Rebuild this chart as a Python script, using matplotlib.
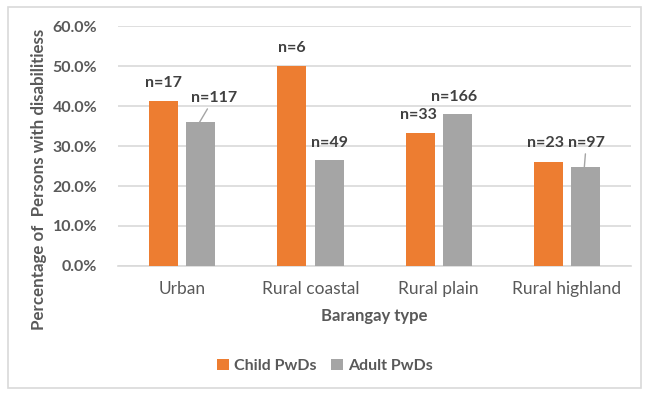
import numpy as np
import matplotlib.pyplot as plt
from matplotlib.patches import Rectangle

barangay_types = ["Urban", "Rural coastal", "Rural plain", "Rural highland"]
child_pct = [41.2, 50.0, 33.3, 26.1]
adult_pct = [35.9, 26.5, 38.0, 24.7]
child_n = [17, 6, 33, 23]
adult_n = [117, 49, 166, 97]

orange = "#ED7D31"
grey = "#A5A5A5"
txt = "#595959"

plt.rcParams["font.family"] = ["Lato", "DejaVu Sans"]

fig = plt.figure(figsize=(6.5, 3.95), dpi=100)
fig.patches.append(Rectangle((8 / 650, 1 - 388 / 395), 633 / 650, 381 / 395,
                             transform=fig.transFigure, fill=False,
                             edgecolor="#D9D9D9", linewidth=1.2))
ax = fig.add_axes([0.1815, 0.3266, 0.7895, 0.6075])

x = np.arange(len(barangay_types))
w = 0.226
off = 0.145
b1 = ax.bar(x - off, np.array(child_pct) / 100, w, color=orange, label="Child PwDs", zorder=3)
b2 = ax.bar(x + off, np.array(adult_pct) / 100, w, color=grey, label="Adult PwDs", zorder=3)

ax.set_xlim(-0.5, 3.5)
ax.set_ylim(0, 0.6)
ax.set_yticks(np.arange(0, 0.61, 0.1))
ax.set_yticklabels([f"{v * 100:.1f}%" for v in np.arange(0, 0.61, 0.1)])
ax.yaxis.grid(True, color="#D9D9D9", linewidth=1.2, zorder=0)
ax.set_axisbelow(True)
for s in ["top", "right", "left"]:
    ax.spines[s].set_visible(False)
ax.spines["bottom"].set_color("#D9D9D9")
ax.spines["bottom"].set_linewidth(1.2)
ax.tick_params(axis="both", length=0, colors=txt)
ax.tick_params(axis="y", pad=15, labelsize=11.5)
ax.tick_params(axis="x", pad=11, labelsize=12.5)
for lab in ax.get_yticklabels():
    lab.set_fontweight("bold")
ax.set_xticks(x)
ax.set_xticklabels(barangay_types)

ax.set_xlabel("Barangay type", color=txt, fontsize=12, fontweight="bold", labelpad=8)
ax.set_ylabel("Percentage of  Persons with disabilitiess", color=txt, fontsize=12.2,
              fontweight="bold")
ax.yaxis.set_label_coords(-0.138, 0.36)

# n labels above each bar (pixel offsets from the bar top)
child_offsets = [(0, 18), (0, 18), (-2, 18), (-3, 18.5)]
adult_offsets = [(14.5, 24.5), (1.5, 17), (-2, 17), (2, 24.5)]
leader = [True, False, False, True]

for i, bar in enumerate(b1):
    ax.annotate(f"n={child_n[i]}", (bar.get_x() + bar.get_width() / 2, bar.get_height()),
                xytext=child_offsets[i], textcoords="offset pixels", ha="center", va="center",
                fontsize=11.5, fontweight="bold", color="#404040")
for i, bar in enumerate(b2):
    arrow = dict(arrowstyle="-", color=grey, lw=1, shrinkA=1, shrinkB=0) if leader[i] else None
    ax.annotate(f"n={adult_n[i]}", (bar.get_x() + bar.get_width() / 2 - 0.01, bar.get_height()),
                xytext=adult_offsets[i], textcoords="offset pixels", ha="center", va="center",
                fontsize=11.5, fontweight="bold", color="#404040", arrowprops=arrow)

leg = fig.legend(handles=[b1, b2], loc="center", bbox_to_anchor=(0.5, 1 - 366 / 395),
                 ncol=2, frameon=False, handlelength=0.75, handleheight=0.75,
                 handletextpad=0.3, columnspacing=0.9, fontsize=11.5)
for t in leg.get_texts():
    t.set_color(txt)
    t.set_fontweight("bold")

fig.savefig("out.png", dpi=100)
